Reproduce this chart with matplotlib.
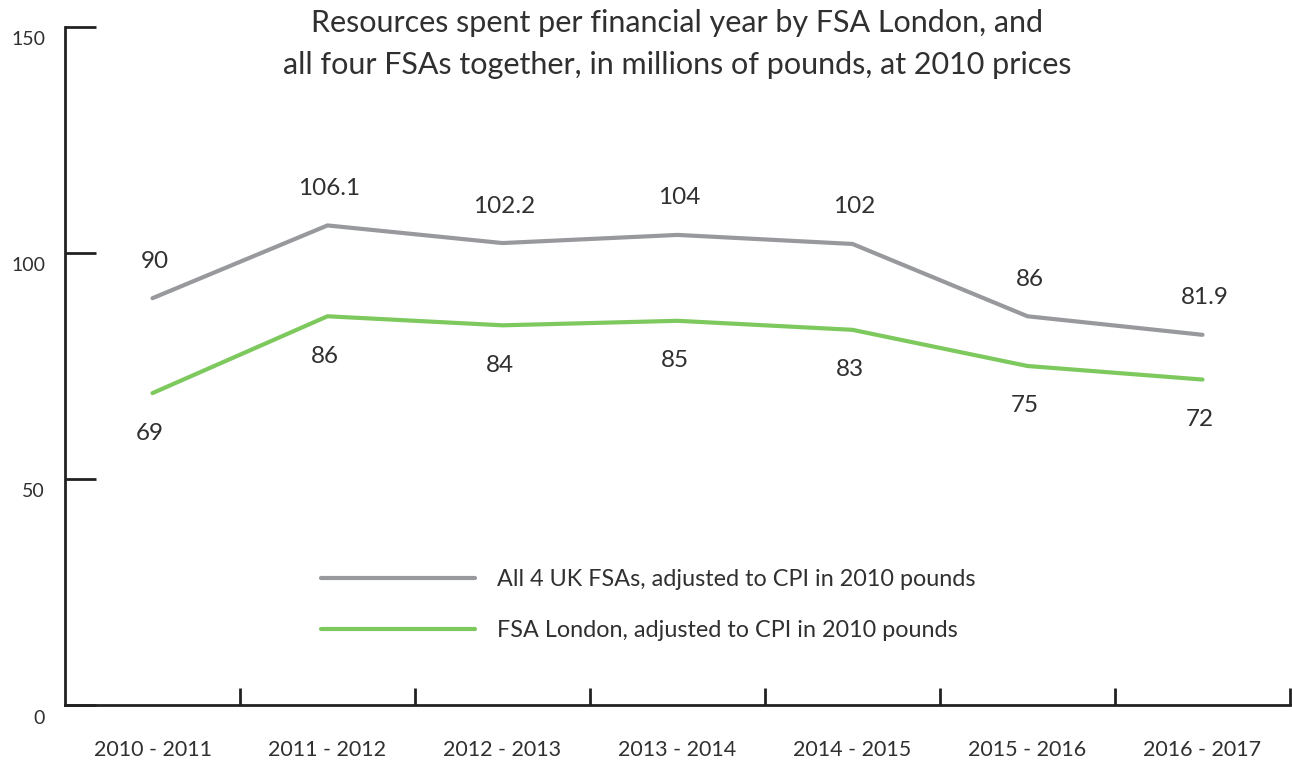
import matplotlib
matplotlib.use("Agg")
import matplotlib.pyplot as plt
from matplotlib.transforms import offset_copy

categories = ["2010 - 2011", "2011 - 2012", "2012 - 2013", "2013 - 2014",
              "2014 - 2015", "2015 - 2016", "2016 - 2017"]
all_fsas = [90, 106.1, 102.2, 104, 102, 86, 81.9]
all_labels = ["90", "106.1", "102.2", "104", "102", "86", "81.9"]
london = [69, 86, 84, 85, 83, 75, 72]
london_labels = ["69", "86", "84", "85", "83", "75", "72"]
yticks = [0, 50, 100, 150]
series_names = ["All 4 UK FSAs, adjusted to CPI in 2010 pounds",
                "FSA London, adjusted to CPI in 2010 pounds"]
title = "Resources spent per financial year by FSA London, and\nall four FSAs together, in millions of pounds, at 2010 prices"

GRAY = "#98999d"
GREEN = "#7dc95e"
DARK = "#222222"
TXT = "#303030"

plt.rcParams['font.family'] = ['Lato', 'DejaVu Sans']

W, H = 1292, 765
fig = plt.figure(figsize=(W/100, H/100), dpi=100)
ax = fig.add_axes([65/W, 1-705/H, (1290-65)/W, (705-27)/H])

x = list(range(len(categories)))
ax.plot(x, all_fsas, color=GRAY, lw=3, solid_capstyle='round', label=series_names[0])
ax.plot(x, london, color=GREEN, lw=3, solid_capstyle='round', label=series_names[1])

ax.set_xlim(-0.5, len(categories)-0.5)
ax.set_ylim(0, 150)

for s in ['top', 'right']:
    ax.spines[s].set_visible(False)
for s in ['left', 'bottom']:
    ax.spines[s].set_color(DARK)
    ax.spines[s].set_linewidth(2)

ax.set_yticks(yticks)
ax.set_yticklabels([])
ax.tick_params(axis='y', direction='in', length=22, width=2, color=DARK)
ax.set_xticks([i + 0.5 for i in x])
ax.set_xticklabels([])
ax.tick_params(axis='x', direction='in', length=12, width=2, color=DARK)

# y tick labels, shifted below ticks
for v in yticks:
    tr = offset_copy(ax.get_yaxis_transform(), fig=fig, x=-20, y=-13, units='dots')
    ax.text(0, v, str(v), transform=tr, ha='right', va='center',
            fontsize=14, color=TXT)

# x category labels
for i, c in enumerate(categories):
    tr = offset_copy(ax.get_xaxis_transform(), fig=fig, x=0, y=-45, units='dots')
    ax.text(i, 0, c, transform=tr, ha='center', va='center',
            fontsize=15.5, color=TXT)

# data labels
for i, (v, l) in enumerate(zip(all_fsas, all_labels)):
    ax.annotate(l, (i, v), xytext=(2, 37), textcoords='offset pixels',
                ha='center', va='center', fontsize=17.5, color=TXT)
for i, (v, l) in enumerate(zip(london, london_labels)):
    ax.annotate(l, (i, v), xytext=(-3, -40), textcoords='offset pixels',
                ha='center', va='center', fontsize=17.5, color=TXT)

leg = ax.legend(loc='upper left', bbox_to_anchor=((300-65)/(1290-65), 1-(548-27)/(705-27)),
                frameon=False, handlelength=6.6, handletextpad=0.95,
                labelspacing=1.3, prop={'size': 16.8})
for t in leg.get_texts():
    t.set_color(TXT)

fig.text(677/W, 1-44/H, title, ha='center', va='center', fontsize=22,
         color=TXT, linespacing=1.6)

fig.savefig("out.png", dpi=100, facecolor='white')
